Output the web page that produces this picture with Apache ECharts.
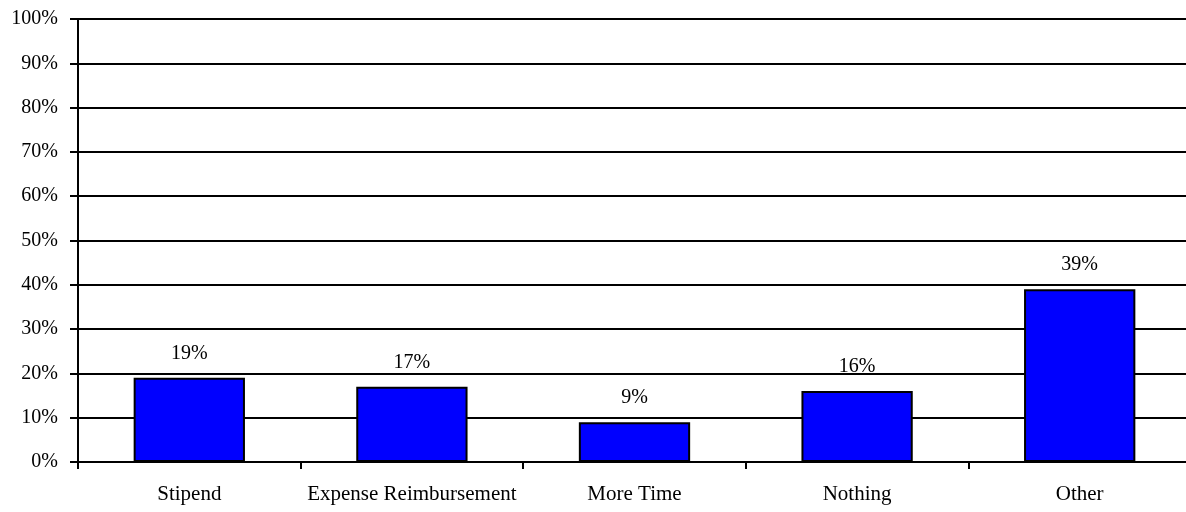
<!DOCTYPE html>
<html>
<head>
<meta charset="utf-8">
<script src="https://cdn.jsdelivr.net/npm/echarts@6/dist/echarts.min.js"></script>
<style>
html,body{margin:0;padding:0;background:#fff;overflow:hidden;}
/* plot area runs slightly past the right edge of the visible page */
#chart{width:1192px;height:512px;}
</style>
</head>
<body>
<div id="chart"></div>
<script>
// Survey responses by category (percent)
const categories = ['Stipend', 'Expense Reimbursement', 'More Time', 'Nothing', 'Other'];
const shares = [19, 17, 9, 16, 39];
const yTicks = [0, 10, 20, 30, 40, 50, 60, 70, 80, 90, 100];

const font = '"Liberation Serif", "Times New Roman", serif';
const chart = echarts.init(document.getElementById('chart'));
chart.setOption({
  animation: false,
  backgroundColor: '#fff',
  grid: { left: 78, right: 1, top: 19, bottom: 50, containLabel: false },
  xAxis: {
    type: 'category',
    data: categories,
    boundaryGap: true,
    axisLine: { lineStyle: { color: '#000', width: 2 } },
    axisTick: { show: true, length: 7, lineStyle: { color: '#000', width: 2 } },
    axisLabel: { color: '#000', fontFamily: font, fontSize: 21, margin: 22, interval: 0 },
    splitLine: { show: false }
  },
  yAxis: {
    type: 'value',
    min: yTicks[0],
    max: yTicks[yTicks.length - 1],
    interval: 10,
    axisLine: { show: true, lineStyle: { color: '#000', width: 2 } },
    axisTick: { show: true, length: 8, lineStyle: { color: '#000', width: 2 } },
    axisLabel: { color: '#000', fontFamily: font, fontSize: 20, margin: 20, formatter: v => v + '%' },
    splitLine: { show: true, lineStyle: { color: '#000', width: 2 } }
  },
  series: [{
    type: 'bar',
    data: shares,
    barWidth: '50%',
    itemStyle: { color: '#0000ff', borderColor: '#000', borderWidth: 2 },
    label: {
      show: true,
      position: 'top',
      distance: 14,
      color: '#000',
      fontFamily: font,
      fontSize: 20,
      formatter: p => p.value + '%'
    }
  }]
});
</script>
</body>
</html>
